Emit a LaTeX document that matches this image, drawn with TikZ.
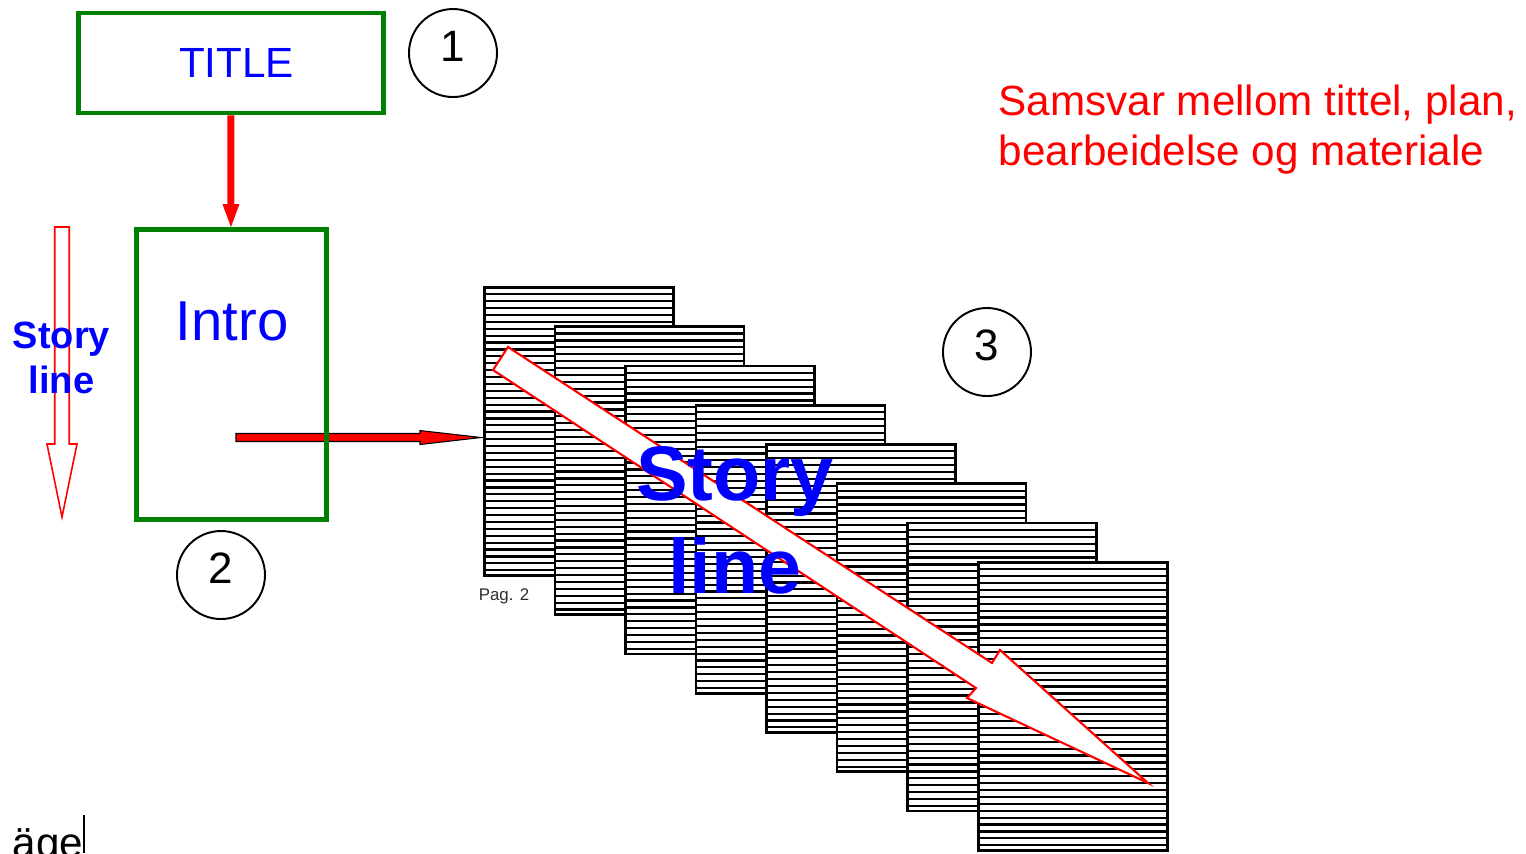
\documentclass[tikz,border=0pt]{standalone}
\usepackage{fontspec}
\setmainfont{Liberation Sans}
\usetikzlibrary{calc}
\definecolor{tgreen}{RGB}{0,128,0}
\definecolor{tblue}{RGB}{0,0,255}
\definecolor{tred}{RGB}{255,0,0}
\definecolor{tgray}{RGB}{45,45,45}
\newcommand\pxu{0.01cm}
\begin{document}
\begin{tikzpicture}[x=0.01cm,y=-0.01cm,
  gbox/.style={draw=tgreen, line width=1.4pt, inner sep=0pt, anchor=north west},
  pagebox/.style={draw=black, line width=0.75pt, fill=white, inner sep=0pt,
    anchor=north west, minimum width=189*\pxu, minimum height=288*\pxu,
    path picture={\foreach \k in {1,...,41}{
      \draw[line width=0.62pt] ([yshift=-\k*6.9*\pxu]path picture bounding box.north west)
        -- ([yshift=-\k*6.9*\pxu]path picture bounding box.north east);}}},
  circ/.style={draw=black, circle, line width=0.55pt, minimum size=88*\pxu, inner sep=0pt},
  num/.style={font=\fontsize{12.5}{14}\selectfont, inner sep=0pt},
  bluetxt/.style={text=tblue, inner sep=0pt, anchor=base},
  redtxt/.style={text=tred, inner sep=0pt, anchor=base west, font=\fontsize{12}{14}\selectfont},
  redarrow/.style={fill=tred, draw=black, line width=0.3pt},
  bigarrow/.style={fill=white, draw=tred, line width=0.6pt, line join=miter},
  hollowarrow/.style={draw=tred, line width=0.45pt, line join=miter}
]
\useasboundingbox (0,0) rectangle (1526,853);
\clip (0,0) rectangle (1526,853);

% stacked pages
\foreach \i in {1,...,8}{
  \node[pagebox] (p\i) at ({483+70.57*(\i-1)},{286+39.29*(\i-1)}) {};
}

% big white arrow across the pages
\draw[bigarrow] (508,347) -- (992,663) -- (1000,650) -- (1148,783) -- (967,698) -- (976,688) -- (493,370) -- cycle;
\node[bluetxt, font=\bfseries\fontsize{22}{26}\selectfont] (bigstory) at (735,500) {Story};
\node[bluetxt, font=\bfseries\fontsize{22}{26}\selectfont] (bigline) at (735,593) {line};

% title box
\node[gbox, minimum width=305*\pxu, minimum height=100*\pxu] (title) at (76,10.5) {};
\node[bluetxt, font=\fontsize{12}{14}\selectfont] (titletxt) at (236.5,77) {TITLE};

% intro box geometry
\path (134,227) coordinate (introNW);
\coordinate (hs) at (236,437.5);
\coordinate (he) at ($(p1.north west |- hs)+(-2,0)$);

% horizontal arrow intro -> pages
\draw[redarrow] ($(hs)+(0,-4)$) -- ($(he)+(-61,-4)$) -- ($(he)+(-61,-7)$) -- (he)
  -- ($(he)+(-61,7)$) -- ($(he)+(-61,4)$) -- ($(hs)+(0,4)$) -- cycle;

\node[gbox, minimum width=190*\pxu, minimum height=290*\pxu] (intro) at (introNW) {};
\node[bluetxt, font=\fontsize{16}{18}\selectfont] (introtxt) at (232,340) {Intro};

% vertical arrow title -> intro
\coordinate (va) at (title.south);
\coordinate (vb) at (title.south |- intro.north);
\fill[tred] ($(va)+(-3.5,0)$) -- ($(vb)+(-3.5,-23)$) -- ($(vb)+(-8.5,-23)$) -- (vb)
  -- ($(vb)+(8.5,-23)$) -- ($(vb)+(3.5,-23)$) -- ($(va)+(3.5,0)$) -- cycle;

% numbered circles
\node[circ] (c1) at (453,53) {};
\node[num] (n1) at (453,46) {1};
\node[circ] (c3) at (987,352) {};
\node[num] (n3) at (987,345) {3};
\node[circ] (c2) at (221,575) {};
\node[num] (n2) at (221,568) {2};

% left hollow arrow with story line text
\coordinate (lt) at (62,227);
\coordinate (lb) at (62,517);
\draw[hollowarrow] ($(lt)+(-7.25,0)$) -- ($(lb)+(-7.25,-73)$) -- ($(lb)+(-15,-73)$) -- (lb)
  -- ($(lb)+(15,-73)$) -- ($(lb)+(7.25,-73)$) -- ($(lt)+(7.25,0)$) -- cycle;
\node[bluetxt, font=\bfseries\fontsize{10.8}{13}\selectfont] (lstory) at (61.5,348) {Story};
\node[bluetxt, font=\bfseries\fontsize{10.8}{13}\selectfont] (lline) at (61.5,393) {line};

% red heading
\node[redtxt] (r1) at (998,115) {Samsvar mellom tittel, plan,};
\node[redtxt] (r2) at (998,165) {bearbeidelse og materiale};

% page label
\node[text=tgray, inner sep=0pt, anchor=base, font=\fontsize{4.8}{5}\selectfont] (pag) at (504,600) {Pag. 2};

% clipped word at bottom left with cursor
\node[inner sep=0pt, anchor=base west, font=\fontsize{12}{14}\selectfont] (aege) at (12,857) {äge};
\draw[line width=0.4pt] (84,815) -- (84,853);
\end{tikzpicture}
\end{document}
